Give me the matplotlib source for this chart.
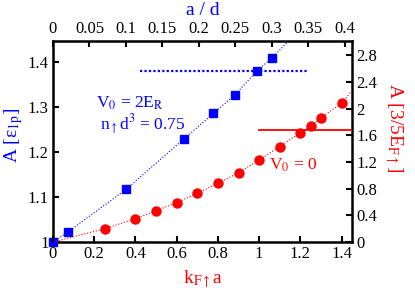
import matplotlib
matplotlib.use("Agg")
import matplotlib.pyplot as plt
from matplotlib.ticker import FuncFormatter

plt.rcParams['font.family'] = ['Liberation Serif', 'DejaVu Serif']
plt.rcParams['mathtext.fontset'] = 'stix'

# blue series: A in units of eps_1p vs a/d (top axis, left axis)
blue_ad = [0.0, 0.02, 0.10, 0.18, 0.22, 0.25, 0.28, 0.30]
blue_A = [1.0, 1.022, 1.117, 1.230, 1.286, 1.328, 1.381, 1.409]
# dotted guide through the blue points
blue_fit_ad = [0.0, 0.02, 0.10, 0.18, 0.22, 0.25, 0.28, 0.30, 0.325]
blue_fit_A = [1.0, 1.022, 1.117, 1.230, 1.286, 1.328, 1.381, 1.409, 1.45]
blue_hline = (1.38, 0.12, 0.348)

# red series: A in units of 3/5 E_F vs kF a (bottom axis, right axis)
red_kfa = [0.25, 0.4, 0.5, 0.6, 0.7, 0.8, 0.9, 1.0, 1.1, 1.2, 1.25, 1.3, 1.4]
red_A = [0.20, 0.35, 0.47, 0.59, 0.73, 0.88, 1.04, 1.23, 1.43, 1.64, 1.74, 1.86, 2.08]
red_fit_kfa = [0.0] + red_kfa + [1.45]
red_fit_A = [0.0] + red_A + [2.27]
red_hline = (1.68, 1.0, 1.45)

blue = '#0000ff'
red = '#ff0000'
fmt = FuncFormatter(lambda v, p: '%g' % round(v, 3))

fig = plt.figure(figsize=(4.15, 2.91), dpi=100)
rect = [0.1277, 0.168, 0.7203, 0.691]

axb = fig.add_axes(rect)
axb.xaxis.set_ticks_position('top')
axb.xaxis.set_label_position('top')
axb.plot(blue_fit_ad, blue_fit_A, ':', color=blue, lw=0.8)
axb.plot(blue_ad, blue_A, 's', color=blue, ms=5.5, clip_on=False, zorder=5)
axb.plot([blue_hline[1], blue_hline[2]], [blue_hline[0]] * 2,
         color=blue, lw=1.6, dashes=(1, 1))
axb.set_xlim(0, 0.41)
axb.set_ylim(1.0, 1.447)
axb.set_xticks([0, 0.05, 0.1, 0.15, 0.2, 0.25, 0.3, 0.35, 0.4])
axb.set_yticks([1.0, 1.1, 1.2, 1.3, 1.4])
axb.xaxis.set_major_formatter(fmt)
axb.yaxis.set_major_formatter(fmt)
axb.set_xlabel('a / d', color=blue, fontsize=14, labelpad=4)
axb.set_ylabel(r'A [ε$_{\mathrm{1p}}$]', color=blue, fontsize=14,
               labelpad=2)
axb.yaxis.label.set_y(0.53)
axb.text(0.059, 1.298, r'V$_0$ = 2E$_\mathrm{R}$', color=blue, fontsize=12.5)
axb.text(0.065, 1.251, r'n$_\uparrow$d$^3$ = 0.75', color=blue, fontsize=12.5)

axr = fig.add_axes(rect, facecolor='none')
axr.yaxis.tick_right()
axr.yaxis.set_label_position('right')
axr.plot(red_fit_kfa, red_fit_A, ':', color=red, lw=0.8)
axr.plot(red_kfa, red_A, 'o', color=red, ms=6.5, zorder=5)
axr.plot([red_hline[1], red_hline[2]], [red_hline[0]] * 2, '-',
         color=red, lw=1.3)
axr.set_xlim(0, 1.45)
axr.set_ylim(0, 3.01)
axr.set_xticks([0, 0.2, 0.4, 0.6, 0.8, 1.0, 1.2, 1.4])
axr.set_yticks([0, 0.4, 0.8, 1.2, 1.6, 2.0, 2.4, 2.8])
axr.xaxis.set_major_formatter(fmt)
axr.yaxis.set_major_formatter(fmt)
axr.set_xlabel(r'k$_{\mathrm{F}\uparrow}$a', color=red, fontsize=14, labelpad=4)
axr.set_ylabel(r'A [3/5E$_{\mathrm{F}\uparrow}$]', color=red, fontsize=14,
               rotation=-90, labelpad=20)
axr.yaxis.label.set_y(0.57)
axr.text(1.05, 1.08, r'V$_0$ = 0', color=red, fontsize=12.5)
for s in axr.spines.values():
    s.set_visible(False)

for s in axb.spines.values():
    s.set_linewidth(1.8)
for ax in (axb, axr):
    ax.tick_params(direction='in', length=4, width=1.5, labelsize=12,
                   pad=3)

fig.savefig('out.png', dpi=100)
